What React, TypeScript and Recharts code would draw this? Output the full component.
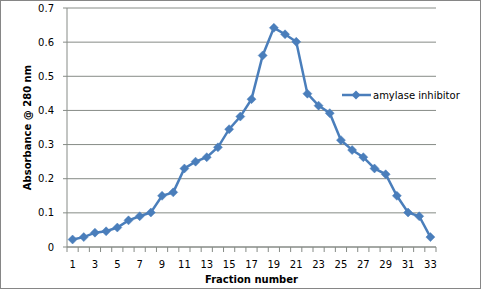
import { LineChart, Line, XAxis, YAxis, CartesianGrid } from 'recharts'

const fractions = [1, 2, 3, 4, 5, 6, 7, 8, 9, 10, 11, 12, 13, 14, 15, 16, 17, 18, 19, 20, 21, 22, 23, 24, 25, 26, 27, 28, 29, 30, 31, 32, 33]
const absorbance = [0.022, 0.029, 0.042, 0.046, 0.057, 0.078, 0.09, 0.101, 0.15, 0.16, 0.23, 0.25, 0.263, 0.292, 0.345, 0.382, 0.433, 0.561, 0.642, 0.623, 0.601, 0.449, 0.414, 0.392, 0.313, 0.284, 0.263, 0.23, 0.213, 0.15, 0.101, 0.09, 0.029]
const yTicks = [0, 0.1, 0.2, 0.3, 0.4, 0.5, 0.6, 0.7]
const xLabels = [1, 3, 5, 7, 9, 11, 13, 15, 17, 19, 21, 23, 25, 27, 29, 31, 33]
const xTickMarks = [0.5, 1.5, 2.5, 3.5, 4.5, 5.5, 6.5, 7.5, 8.5, 9.5, 10.5, 11.5, 12.5, 13.5, 14.5, 15.5, 16.5, 17.5, 18.5, 19.5, 20.5, 21.5, 22.5, 23.5, 24.5, 25.5, 26.5, 27.5, 28.5, 29.5, 30.5, 31.5, 32.5, 33.5]

const data = fractions.map((f, i) => ({ fraction: f, value: absorbance[i] }))
const allTicks = [...xTickMarks, ...xLabels].sort((a, b) => a - b)

const BLUE = '#4a7ebb'
const GRID = '#868b86'
const FONT = '"DejaVu Sans", Verdana, sans-serif'

const Diamond = (props: any) => {
  const { cx, cy } = props
  if (cx == null || cy == null) return null
  const r = 4.5
  return <polygon points={`${cx},${cy - r} ${cx + r},${cy} ${cx},${cy + r} ${cx - r},${cy}`} fill={BLUE} stroke={BLUE} strokeWidth={0.5} />
}

// odd fractions get a label, half steps get the small tick mark
const XTick = (props: any) => {
  const { x, y, payload } = props
  const v = payload.value
  const axisY = y - 4 - 8
  if (v % 1 !== 0) {
    return <line x1={x} x2={x} y1={axisY} y2={axisY + 5} stroke={GRID} strokeWidth={1} />
  }
  if (!xLabels.includes(v)) return null
  return (
    <text x={x} y={axisY + 17} textAnchor="middle" dominantBaseline="central" fontSize={10} fill="#000" fontFamily={FONT}>
      {v}
    </text>
  )
}

export default function App() {
  return (
    <div style={{ position: 'absolute', left: 0, top: 0, width: 481, height: 289, background: '#fff' }}>
      <LineChart width={481} height={289} data={data} margin={{ top: 8, right: 45, bottom: 0, left: 0 }}>
        <CartesianGrid horizontal vertical={false} stroke={GRID} />
        <XAxis
          dataKey="fraction"
          type="number"
          domain={[0.5, 33.5]}
          ticks={allTicks}
          interval={0}
          tickLine={false}
          tickSize={4}
          tickMargin={8}
          axisLine={{ stroke: GRID }}
          tick={<XTick />}
          height={42}
          label={{ value: 'Fraction number', position: 'insideBottom', offset: 6, style: { fontSize: 10, fontWeight: 'bold', fill: '#000', fontFamily: FONT } }}
        />
        <YAxis
          domain={[0, 0.7]}
          ticks={yTicks}
          interval={0}
          width={67}
          tickSize={4}
          tickMargin={9}
          axisLine={{ stroke: GRID }}
          tickLine={{ stroke: GRID }}
          tick={{ fontSize: 10, fill: '#000', fontFamily: FONT }}
          label={{ value: 'Absorbance  @ 280 nm', angle: -90, position: 'insideLeft', offset: 27, style: { textAnchor: 'middle', fontSize: 10, fontWeight: 'bold', fill: '#000', fontFamily: FONT } }}
        />
        <Line dataKey="value" stroke={BLUE} strokeWidth={2.5} dot={<Diamond />} activeDot={false} isAnimationActive={false} />
      </LineChart>
      <div style={{ position: 'absolute', left: 342, top: 88, display: 'flex', alignItems: 'center', fontFamily: FONT, fontSize: 10, color: '#000' }}>
        <svg width={29} height={14}>
          <line x1={0} x2={29} y1={7} y2={7} stroke={BLUE} strokeWidth={2.5} />
          <polygon points="14,2.5 18.5,7 14,11.5 9.5,7" fill={BLUE} />
        </svg>
        <span style={{ marginLeft: 2, whiteSpace: 'nowrap' }}>amylase inhibitor</span>
      </div>
      <div style={{ position: 'absolute', left: 0, top: 0, width: 481, height: 289, boxSizing: 'border-box', border: '1px solid #868686', pointerEvents: 'none' }} />
    </div>
  )
}
